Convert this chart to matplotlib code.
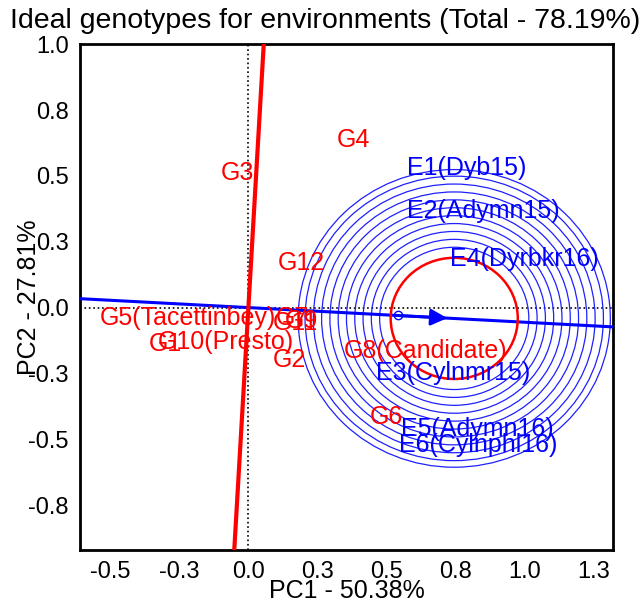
import numpy as np
import matplotlib
matplotlib.use("Agg")
import matplotlib.pyplot as plt
from matplotlib.patches import Circle

plt.rcParams['font.family'] = ['Liberation Sans', 'DejaVu Sans']

# genotype scores (label positions)
gen_names = ["G1", "G2", "G3", "G4", "G5(Tacettinbey)", "G6", "G7", "G8(Candidate)",
             "G9", "G10(Presto)", "G11", "G12"]
gen_pc1 = [-0.30, 0.15, -0.04, 0.38, -0.22, 0.50, 0.16, 0.64, 0.19, -0.08, 0.17, 0.19]
gen_pc2 = [-0.14, -0.20, 0.51, 0.635, -0.04, -0.415, -0.04, -0.165, -0.05, -0.13, -0.06, 0.17]

# environment scores (label positions)
env_names = ["E1(Dyb15)", "E2(Adymn15)", "E3(Cylnmr15)", "E4(Dyrbkr16)", "E5(Adymn16)", "E6(Cylnphl16)"]
env_pc1 = [0.79, 0.85, 0.74, 1.00, 0.83, 0.83]
env_pc2 = [0.53, 0.365, -0.25, 0.185, -0.46, -0.52]

# average environment and ideal genotype
mean_env = (0.54, -0.03)
ideal = (0.745, -0.041)
ideal_r = 0.23
ring_radii = [0.27, 0.30, 0.33, 0.36, 0.39, 0.42, 0.45, 0.48, 0.51, 0.54, 0.565]

x_ticks = [-0.5, -0.25, 0.0, 0.25, 0.5, 0.75, 1.0, 1.25]
x_ticklabels = ["-0.5", "-0.3", "0.0", "0.3", "0.5", "0.8", "1.0", "1.3"]
y_ticks = [-0.75, -0.5, -0.25, 0.0, 0.25, 0.5, 0.75, 1.0]
y_ticklabels = ["-0.8", "-0.5", "-0.3", "0.0", "0.3", "0.5", "0.8", "1.0"]

fig = plt.figure(figsize=(6.44, 6.05), dpi=100)
ax = fig.add_axes([0.124, 0.091, 0.828, 0.836])
ax.set_xlim(-0.61, 1.32)
ax.set_ylim(-0.92, 1.0)

# reference lines
ax.axhline(0, color='black', linestyle=':', linewidth=1.2, zorder=1)
ax.axvline(0, color='black', linestyle=':', linewidth=1.2, zorder=1)

# average environment axis and its perpendicular
slope = mean_env[1] / mean_env[0]
ax.axline((0, 0), slope=slope, color='#0000ff', linewidth=2.2, zorder=3)
ax.axline((0, 0), (-slope, 1), color='#ff0000', linewidth=3, zorder=3)

# concentric circles
for r in ring_radii:
    ax.add_patch(Circle(ideal, r, fill=False, edgecolor='#2020ff', linewidth=0.9, zorder=2))
ax.add_patch(Circle(ideal, ideal_r, fill=False, edgecolor='#ff0000', linewidth=1.8, zorder=4))

ax.plot(mean_env[0], mean_env[1], marker='o', markersize=6, markerfacecolor='none',
        markeredgecolor='#0000ff', markeredgewidth=1, zorder=5)
ax.annotate("", xy=(0.73, slope * 0.73), xytext=(0.55, slope * 0.55),
            arrowprops=dict(arrowstyle='-|>', color='#0000ff', lw=2, mutation_scale=25), zorder=5)

for n, x, y in zip(gen_names, gen_pc1, gen_pc2):
    ax.text(x, y, n, color='#ff0000', fontsize=18, ha='center', va='center', zorder=6)
for n, x, y in zip(env_names, env_pc1, env_pc2):
    ax.text(x, y, n, color='#0000ff', fontsize=18, ha='center', va='center', zorder=6)

ax.set_xticks(x_ticks)
ax.set_xticklabels(x_ticklabels)
ax.set_yticks(y_ticks)
ax.set_yticklabels(y_ticklabels)
ax.tick_params(length=0, labelsize=17, pad=8)
for s in ax.spines.values():
    s.set_linewidth(2)

ax.set_xlabel("PC1 - 50.38%", fontsize=18, labelpad=-3)
ax.set_ylabel("PC2 - 27.81%", fontsize=18, labelpad=-9)
fig.text(0.505, 0.965, "Ideal genotypes for environments (Total - 78.19%)", fontsize=20.5,
         ha='center', va='center')

fig.savefig("out.png", dpi=100)
